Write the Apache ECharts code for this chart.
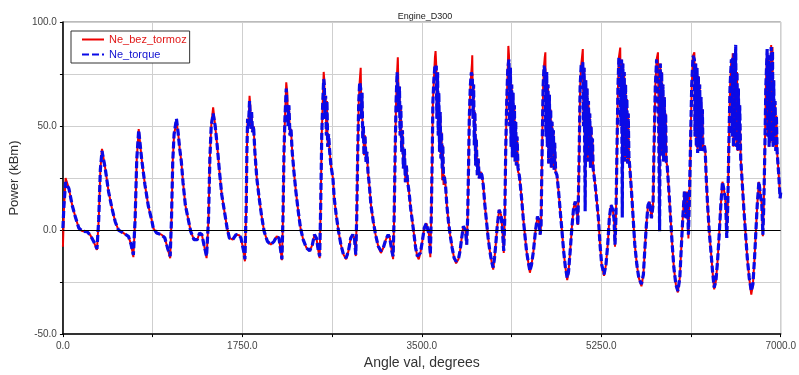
<!DOCTYPE html>
<html>
<head>
<meta charset="utf-8">
<title>Engine_D300</title>
<script src="https://cdn.jsdelivr.net/npm/echarts@6/dist/echarts.min.js"></script>
<style>
  html, body { margin: 0; padding: 0; background: #fff; }
  #chart { width: 799px; height: 375px; }
</style>
</head>
<body>
<div id="chart"></div>
<script>
// Crank angle, degrees
const angle = [
  0,10,26,58,90,123,155,187,236,268,
  300,332,349,365,381,413,445,478,510,542,
  591,639,665,687,704,720,739,768,800,833,
  865,881,913,962,994,1020,1046,1059,1071,1084,
  1107,1123,1139,1155,1171,1194,1220,1246,1278,1310,
  1333,1355,1375,1401,1420,1433,1446,1465,1485,1504,
  1527,1549,1575,1601,1623,1656,1688,1720,1736,1762,
  1775,1788,1794,1801,1810,1820,1827,1833,1840,1849,
  1859,1872,1891,1914,1936,1962,1994,2027,2059,2085,
  2107,2124,2136,2146,2156,2165,2178,2188,2195,2204,
  2214,2224,2236,2253,2272,2295,2317,2343,2375,2407,
  2433,2453,2472,2491,2504,2514,2524,2533,2543,2549,
  2556,2562,2569,2575,2582,2591,2601,2614,2633,2646,
  2665,2688,2711,2736,2762,2785,2807,2827,2843,2856,
  2865,2875,2885,2894,2898,2904,2911,2917,2924,2930,
  2936,2946,2956,2965,2975,2988,3004,3027,3049,3075,
  3101,3124,3149,3172,3188,3207,3220,3230,3240,3249,
  3259,3266,3269,3275,3282,3288,3295,3304,3311,3320,
  3330,3340,3349,3362,3375,3391,3408,3424,3440,3456,
  3470,3486,3505,3524,3544,3560,3570,3583,3592,3602,
  3608,3618,3628,3634,3641,3647,3654,3660,3666,3673,
  3679,3686,3692,3699,3705,3712,3718,3731,3744,3760,
  3776,3796,3815,3834,3857,3873,3889,3905,3925,3938,
  3947,3957,3963,3973,3983,3989,3992,3999,4005,4012,
  4018,4025,4031,4041,4050,4060,4073,4086,4099,4115,
  4131,4147,4163,4180,4196,4209,4221,4234,4254,4273,
  4286,4299,4309,4318,4328,4338,4344,4350,4357,4364,
  4370,4377,4383,4390,4396,4403,4409,4416,4422,4429,
  4438,4448,4454,4473,4489,4505,4521,4537,4554,4570,
  4589,4608,4628,4641,4654,4663,4673,4683,4692,4699,
  4705,4711,4718,4724,4731,4737,4744,4750,4757,4763,
  4770,4776,4783,4790,4796,4805,4818,4834,4850,4867,
  4883,4899,4918,4931,4947,4963,4980,4996,5012,5022,
  5035,5044,5054,5070,5077,5083,5093,5099,5106,5112,
  5119,5125,5132,5138,5145,5151,5158,5164,5171,5190,
  5206,5222,5238,5254,5277,5296,5313,5329,5345,5361,
  5374,5384,5393,5403,5413,5422,5435,5442,5448,5455,
  5461,5468,5474,5481,5487,5494,5500,5507,5513,5520,
  5529,5545,5561,5577,5597,5616,5642,5661,5674,5690,
  5706,5722,5739,5755,5764,5777,5790,5803,5810,5819,
  5826,5832,5839,5845,5852,5858,5865,5871,5878,5884,
  5893,5910,5926,5942,5958,5977,5997,6016,6029,6045,
  6061,6077,6087,6100,6109,6119,6132,6145,6158,6164,
  6171,6177,6184,6190,6197,6203,6210,6216,6223,6229,
  6236,6242,6255,6264,6274,6287,6303,6319,6335,6351,
  6368,6384,6400,6416,6432,6442,6455,6464,6474,6484,
  6493,6506,6519,6526,6532,6539,6545,6552,6561,6568,
  6574,6581,6587,6594,6600,6610,6626,6642,6658,6674,
  6693,6713,6729,6745,6758,6771,6787,6803,6816,6826,
  6835,6845,6855,6868,6874,6881,6887,6894,6900,6907,
  6913,6920,6926,6932,6939,6945,6952,6958,6965,6981,
  6994,7000
];

// Power without brake, kBm
const neBezTormoz = [
  -8,10,25,20,12,6,1,-0.5,-0.8,-2.5,
  -5.5,-9.5,5,29,39,29.5,18.5,10.5,4,0,
  -1.5,-3,-7,-13,5,34,48.5,34,21.7,11.5,
  5,1,-1.4,-2.2,-3.8,-8.6,-13.5,5.7,33,46,
  52,47,39,32.8,23,12,5.7,-0.6,-4.6,-4.6,
  -1.4,-2.2,-7,-13.5,5.7,34.4,50,59,50,40.8,
  28,17,9,1,-3.8,-4.6,-2.2,-2.5,-3.8,-10,
  -15,12,37.6,53.5,50,64.5,60,48.7,56.7,47,
  50,37.6,24.8,15.3,7.3,-0.6,-5.4,-7,-5.4,-3,
  -3.8,-10,-14.5,5.7,37.6,53.5,71,66,50,60,
  45.5,48.7,37.6,28,18.5,9,1,-4.6,-8.6,-10,
  -7,-2.2,-3.8,-10,-13.5,12,45.5,60,76,72,
  53.5,64.6,45.5,62,40,46,38,31,25,15.3,
  7.3,-0.6,-7,-11.8,-14,-10,-3.8,-2.2,-3.8,-12.5,
  5.7,37.6,61.5,71,74,78,53.5,66,44,50,
  36,45.5,32.8,37.6,28,21.7,12,4,-2.2,-7.8,
  -11,-8.6,-4.6,-2.2,-3.8,-10,-14,5.7,37.6,61.5,
  75.8,83,75.8,56.7,69,45.5,60,37.6,48,29.6,
  39,23,31,23,18.5,10.5,4,-2.2,-8.6,-12.6,
  -14,-11,-5.4,1,3.3,2.5,-2.2,-13,5.7,37.6,
  61.5,72.6,83,86,79,53.5,75.8,45.5,66,37.6,
  56.7,34.4,47,24,40.8,21.7,26.4,21.7,12,4,
  -2.2,-8.6,-13.4,-16,-14,-10,-3.8,1.8,0,-7,
  5.7,34.4,53.5,69,75.8,80,84,53.5,70,40.8,
  56.7,31,44,26.4,34.4,24.8,28,26.4,21.7,12,
  4,-3.8,-10,-15,-19,-13.4,-7,1,9.7,7.3,
  0,-11,5.7,37.6,61.5,77,88.5,84,50,78,
  40,70,35,66,38,60,33,52,31,45,
  28,27,25,15.3,5.7,-2.2,-10,-15,-20.5,-16.6,
  -10,-0.6,6.5,5,-2.2,2.5,37.6,69,79,83,
  85.4,45,76,40,70,32,65,38,58,30,
  52,40,48,29,42,28,26.4,18.5,9,-0.6,
  -10,-17.4,-24,-20,-10,1,10.5,13.7,9,2.5,
  37.6,69,79,87,50,78,12,72,38,68,
  33,62,40,56,30,50,36,44,29.6,22,
  14,5.7,-7,-16.6,-22,-16.6,-7,5.7,12,10,
  5.7,-8,5.7,37.6,69,83,87.7,50,82,8,
  80,40,76,33,70,38,63,32,56,35,
  29.6,18.5,5.7,-7,-16.6,-23,-27,-21.3,-10,2.5,
  12,13.7,5.7,12,37.6,69,82,85.4,50,1,
  80,36,76,40,70,33,64,38,56,32.8,
  31,18.5,5.7,-7,-18,-26,-30,-23,-10,5.7,
  18.5,5.7,18.5,-4,13.7,37.6,69,83.8,85.4,45,
  80,40,78,37,74,42,70,38,64,45,
  58,38,40.8,37.6,24.8,12,-0.6,-10,-19.7,-28.5,
  -24.5,-15,-2.2,12,23.2,23.5,17,12,-3.8,12,
  37.6,69,82,45,85,40,85,44,86,40,
  76,38,68,42,60,34.4,21.7,9,-2.2,-13.4,
  -23,-31,-26,-13.4,-0.6,12,23.2,23.2,12,-3,
  12,37.6,69,87,45,84,40,80,42,89,
  45,88,40,72,45,62,38,55,37.6,26.4,
  15.3,18
];

// Power from torque, kBm
const neTorque = [
  1,12,23,20,12,6,1,-0.5,-0.8,-2.5,
  -5.5,-9,5,29,38,29.5,18.5,10.5,4,0,
  -1.5,-3,-7,-12,5,34,48,34,21.7,11.5,
  5,1,-1.4,-2.2,-3.8,-8.6,-12.6,5.7,33,46,
  53.5,47,39,32.8,23,12,5.7,-0.6,-4.6,-4.6,
  -1.4,-2.2,-7,-12.5,5.7,34.4,50,56,50,40.8,
  28,17,9,1,-3.8,-4.6,-2.2,-2.5,-3.8,-10,
  -14,12,37.6,53.5,50,62,61.5,48.7,56.7,47,
  50,37.6,24.8,15.3,7.3,-0.6,-5.4,-7,-5.4,-3,
  -3.8,-10,-14,5.7,37.6,53.5,68,67.8,50,60,
  45.5,48.7,37.6,28,18.5,9,1,-4.6,-8.6,-10,
  -7,-2.2,-3.8,-10,-12.6,12,45.5,60,72.6,70,
  53.5,64.6,45.5,62,40,46,38,31,25,15.3,
  7.3,-0.6,-7,-11.8,-13.4,-10,-3.8,-2.2,-3.8,-11.8,
  5.7,37.6,61.5,71,71,68,53.5,66,44,50,
  36,45.5,32.8,37.6,28,21.7,12,4,-2.2,-7.8,
  -10,-8.6,-4.6,-2.2,-3.8,-10,-12.6,5.7,37.6,61.5,
  75.8,76,75.8,56.7,69,45.5,60,37.6,48,29.6,
  39,23,31,23,18.5,10.5,4,-2.2,-8.6,-12.6,
  -13.4,-11,-5.4,1,3.3,2.5,-2.2,-11.8,5.7,37.6,
  61.5,72.6,79,78,79,53.5,75.8,45.5,66,37.6,
  56.7,34.4,47,29.6,40.8,24,26.4,21.7,12,4,
  -2.2,-8.6,-13.4,-15,-14,-10,-3.8,1.8,0,-7,
  5.7,34.4,53.5,69,75.8,75.8,74,53.5,70,40.8,
  56.7,31,44,26.4,34.4,24.8,28,26.4,21.7,12,
  4,-3.8,-10,-15,-18,-13.4,-7,1,9.7,7.3,
  0,-10,5.7,37.6,61.5,77,80,82,50,78,
  40,70,35,66,38,60,33,52,31,45,
  30,27,25,15.3,5.7,-2.2,-10,-15,-19.7,-16.6,
  -10,-0.6,6.5,5,-2.2,2.5,37.6,69,79,77,
  77,45,76,40,70,32,65,38,58,30,
  52,40,48,29,42,28,26.4,18.5,9,-0.6,
  -10,-17.4,-23,-20,-10,1,10.5,13.7,9,2.5,
  37.6,69,79,80.6,50,78,9,72,38,68,
  33,62,40,56,30,50,36,44,29.6,22,
  14,5.7,-7,-16.6,-21.3,-16.6,-7,5.7,12,10,
  5.7,-7,5.7,37.6,69,83,83.8,50,82,6,
  80,40,76,33,70,38,63,32,56,35,
  29.6,18.5,5.7,-7,-16.6,-23,-26,-21.3,-10,2.5,
  12,13.7,5.7,12,37.6,69,82,82,50,-0.6,
  80,36,76,40,70,33,64,38,56,32.8,
  31,18.5,5.7,-7,-18,-26,-29.3,-23,-10,5.7,
  18.5,5.7,18.5,-2.2,13.7,37.6,69,83.8,82,45,
  80,40,78,37,74,42,70,38,64,45,
  58,38,40.8,37.6,24.8,12,-0.6,-10,-19.7,-27.7,
  -24.5,-15,-2.2,12,23.2,23.5,17,12,-3.8,12,
  37.6,69,82,45,83,40,85,44,89,40,
  76,38,68,42,60,34.4,21.7,9,-2.2,-13.4,
  -23,-29.3,-26,-13.4,-0.6,12,23.2,23.2,12,-2.2,
  12,37.6,69,87,45,84,40,80,42,88,
  45,86,40,72,45,62,38,55,37.6,26.4,
  15.3,18
];

const xLabelStep = 1750;
const yLabelStep = 50;

const pairs = vals => angle.map((a, i) => [a, vals[i]]);

const chart = echarts.init(document.getElementById('chart'), null, { renderer: 'canvas' });

const sansFamily = 'Liberation Sans, Arial, sans-serif';
const tickFont = { fontFamily: sansFamily, fontSize: 10, color: '#444' };

chart.setOption({
  animation: false,
  backgroundColor: '#ffffff',
  title: {
    text: 'Engine_D300',
    left: 420,
    top: 7,
    textAlign: 'center',
    textStyle: { fontFamily: sansFamily, fontSize: 9, fontWeight: 'normal', color: '#222' }
  },
  legend: {
    left: 71,
    top: 31,
    orient: 'vertical',
    itemGap: 4,
    itemWidth: 22,
    itemHeight: 12,
    padding: [3, 3, 3, 10],
    backgroundColor: '#ffffff',
    borderColor: '#333',
    borderWidth: 1,
    borderRadius: 0,
    itemStyle: { opacity: 0 },
    textStyle: { fontFamily: sansFamily, fontSize: 11 },
    data: [
      { name: 'Ne_bez_tormoz', textStyle: { color: '#e01818' } },
      { name: 'Ne_torque', textStyle: { color: '#1010d0' } }
    ]
  },
  grid: {
    left: 59,
    right: 17,
    top: 22,
    bottom: 38,
    show: true,
    borderColor: '#777',
    borderWidth: 1,
    containLabel: false
  },
  xAxis: {
    type: 'value',
    min: 0,
    max: 7000,
    interval: 875,
    name: 'Angle val, degrees',
    nameLocation: 'middle',
    nameGap: 21,
    nameTextStyle: { fontFamily: sansFamily, fontSize: 14, color: '#333' },
    axisLine: { onZero: false, lineStyle: { color: '#000', width: 1.5 } },
    axisTick: { show: true, inside: false, length: 3, lineStyle: { color: '#000' } },
    axisLabel: Object.assign({
      margin: 7,
      showMaxLabel: true,
      formatter: v => (v % xLabelStep === 0 ? v.toFixed(1) : '')
    }, tickFont),
    splitLine: { show: true, lineStyle: { color: '#cfcfcf', width: 1 } }
  },
  yAxis: {
    type: 'value',
    min: -50,
    max: 100,
    interval: 25,
    name: 'Power (kBm)',
    nameLocation: 'middle',
    nameGap: 40,
    nameRotate: 90,
    nameTextStyle: { fontFamily: sansFamily, fontSize: 13, color: '#333' },
    axisLine: { onZero: false, lineStyle: { color: '#000', width: 1.5 } },
    axisTick: { show: true, inside: false, length: 3, lineStyle: { color: '#000' } },
    axisLabel: Object.assign({
      margin: 6,
      formatter: v => (v % yLabelStep === 0 ? v.toFixed(1) : '')
    }, tickFont),
    splitLine: { show: true, lineStyle: { color: '#cfcfcf', width: 1 } }
  },
  series: [
    {
      name: 'zero',
      type: 'line',
      data: [],
      z: 1,
      silent: true,
      markLine: {
        silent: true,
        symbol: 'none',
        label: { show: false },
        lineStyle: { color: '#000', width: 1, type: 'solid' },
        data: [{ yAxis: 0 }]
      }
    },
    {
      name: 'Ne_bez_tormoz',
      type: 'line',
      data: pairs(neBezTormoz),
      showSymbol: false,
      symbol: 'none',
      z: 3,
      itemStyle: { color: '#ee0000' },
      lineStyle: { color: '#ee0000', width: 2 }
    },
    {
      name: 'Ne_torque',
      type: 'line',
      data: pairs(neTorque),
      showSymbol: false,
      symbol: 'none',
      z: 4,
      itemStyle: { color: '#0a0ae6' },
      lineStyle: { color: '#0a0ae6', width: 3.2, type: [7, 3] }
    }
  ]
});
</script>
</body>
</html>
